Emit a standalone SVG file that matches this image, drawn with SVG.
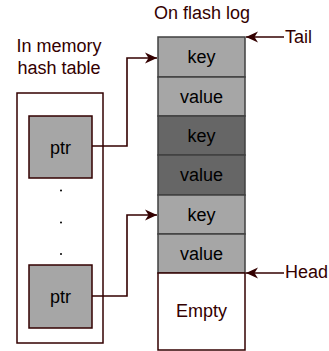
<svg xmlns="http://www.w3.org/2000/svg" width="329" height="351" viewBox="0 0 329 351">
<style>
.lbl{font-family:"Liberation Sans",Arial,sans-serif;font-size:18px;fill:#330000}
.cell{font-family:"Liberation Sans",Arial,sans-serif;font-size:18px;fill:#000;text-anchor:middle}
.lg{fill:#a6a6a6;stroke:#404040;stroke-width:1.5}
.dg{fill:#666666;stroke:#404040;stroke-width:1.5}
.edge{fill:none;stroke:#330000;stroke-width:1.6}
</style>
<defs>
<marker id="ah" markerWidth="13" markerHeight="12" refX="12" refY="6" orient="auto" markerUnits="userSpaceOnUse">
<path d="M0,0.5 L12,6 L0,11.5 L3.5,6 z" fill="#330000"/>
</marker>
</defs>
<rect width="329" height="351" fill="#fff"/>
<text class="lbl" x="59" y="51.5" text-anchor="middle">In memory</text>
<text class="lbl" x="59" y="74" text-anchor="middle">hash table</text>
<text class="lbl" x="202" y="19" text-anchor="middle">On flash log</text>
<g id="hashtable">
<rect x="17" y="93" width="86" height="250" fill="#fff" stroke="#330000" stroke-width="1.5"/>
<circle cx="61" cy="190.5" r="1" fill="#000"/>
<circle cx="61" cy="222.5" r="1" fill="#000"/>
<circle cx="61" cy="254" r="1" fill="#000"/>
</g>
<g id="ptr1">
<rect x="29" y="116" width="63" height="62" fill="#a6a6a6" stroke="#330000" stroke-width="1.5"/>
<text class="cell" x="60.5" y="153.5">ptr</text>
</g>
<g id="ptr2">
<rect x="29" y="265" width="63" height="63" fill="#a6a6a6" stroke="#330000" stroke-width="1.5"/>
<text class="cell" x="60.5" y="303">ptr</text>
</g>
<g id="key1"><rect class="lg" x="158" y="37" width="87" height="40"/><text class="cell" x="201.5" y="63">key</text></g>
<g id="value1"><rect class="lg" x="158" y="77" width="87" height="39"/><text class="cell" x="201.5" y="102.5">value</text></g>
<g id="key2"><rect class="dg" x="158" y="116" width="87" height="39"/><text class="cell" x="201.5" y="141.5">key</text></g>
<g id="value2"><rect class="dg" x="158" y="155" width="87" height="40"/><text class="cell" x="201.5" y="181">value</text></g>
<g id="key3"><rect class="lg" x="158" y="195" width="87" height="39"/><text class="cell" x="201.5" y="220.5">key</text></g>
<g id="value3"><rect class="lg" x="158" y="234" width="87" height="39"/><text class="cell" x="201.5" y="259.5">value</text></g>
<g id="empty"><rect x="158" y="273" width="87" height="77" fill="#fff" stroke="#330000" stroke-width="1.5"/><text class="lbl" x="201.5" y="317" text-anchor="middle">Empty</text></g>
<g id="tail"><text class="lbl" x="285" y="42.5">Tail</text></g>
<g id="head"><text class="lbl" x="285" y="278">Head</text></g>
<g id="connectors">
<path class="edge" d="M92,146 H127 V58 H157" marker-end="url(#ah)"/>
<path class="edge" d="M92,296 H127 V215 H157" marker-end="url(#ah)"/>
<path class="edge" d="M284,37 H246" marker-end="url(#ah)"/>
<path class="edge" d="M284,273 H246" marker-end="url(#ah)"/>
</g>
</svg>
